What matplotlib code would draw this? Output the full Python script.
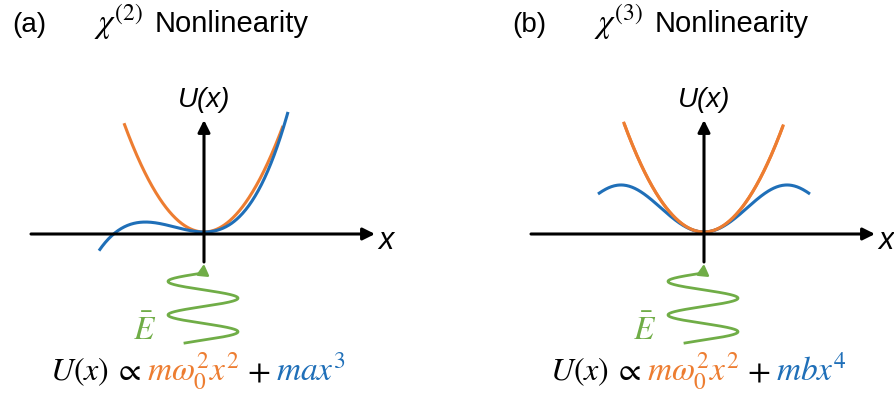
import numpy as np
import matplotlib.pyplot as plt

plt.rcParams['mathtext.fontset'] = 'stix'

#=================================DATA=========================================#

W, H = 894, 393
panels = ["(a)", "(b)"]
orders = ["2", "3"]
panel_shift = [0, 500]          # horizontal offset of each panel, px
axis_cross = (204, 234)         # where x and U axes cross in panel (a)

# U(x) in px above the axis, x in px from the U axis
harmonic_k = 0.017
harmonic_span = [(-80, 79), (-80, 79)]

# blue curves: polynomial coefficients in x^2, x^3, x^4, x^6
cubic_coef = {2: 0.0087, 3: 9.9e-5}
quartic_coef = {2: 0.01581, 4: -1.618e-6, 6: 4.557e-11}
blue_span = [(-105, 84), (-106, 106)]

# incoming field wiggle
wave_amp = 35
wave_bottom, wave_top = 343, 273
wave_phase = (-4 * np.pi - 0.54, 0.0)

ORANGE = "#ED7D31"
BLUE = "#1F6FB8"
GREEN = "#70AD47"

#==================================CORE========================================#

fig = plt.figure(figsize=(W / 100, H / 100), dpi=100)
ax = fig.add_axes([0, 0, 1, 1])
ax.set_xlim(0, W)
ax.set_ylim(H, 0)
ax.axis("off")


def poly(x, coef):
    return sum(c * x ** p for p, c in coef.items())


def arrow(x0, y0, x1, y1, color, lw, hl=0.4, hw=0.2):
    ax.annotate("", xy=(x1, y1), xytext=(x0, y0),
                arrowprops=dict(arrowstyle="-|>,head_length=%g,head_width=%g" % (hl, hw),
                                lw=lw, color=color, shrinkA=0, shrinkB=0,
                                mutation_scale=18))


blue_coefs = [cubic_coef, quartic_coef]
tails = [r"$max^3$", r"$mbx^4$"]

for i in range(2):
    dx = panel_shift[i]
    ox, oy = axis_cross[0] + dx, axis_cross[1]

    # title
    ax.text(12 + dx, 32, panels[i], fontsize=20, family="Liberation Sans", va="baseline")
    ax.text(94 + dx, 33, r"$\chi^{(%s)}$" % orders[i], fontsize=24, va="baseline")
    ax.text(155 + dx, 32, "Nonlinearity", fontsize=21, family="Liberation Sans",
            va="baseline")

    # axes
    arrow(31 + dx, oy, 375 + dx, oy, "black", 2.2)
    arrow(ox, 262, ox, 120, "black", 2.2)
    ax.text(386 + dx, 241, "x", fontsize=22, style="italic", family="Liberation Sans",
            ha="center", va="center")
    ax.text(ox, 100, "U(x)", fontsize=20, style="italic", family="Liberation Sans",
            ha="center", va="center")

    # potentials
    xs = np.linspace(*harmonic_span[i], 300)
    ax.plot(ox + xs, oy - 2 - harmonic_k * xs ** 2, color=ORANGE, lw=2.2,
            solid_capstyle="butt")
    xs = np.linspace(*blue_span[i], 300)
    ax.plot(ox + xs, oy - 2 - poly(xs, blue_coefs[i]), color=BLUE, lw=2.2,
            solid_capstyle="butt")
    if i == 1:
        # orange sits on top of the blue well in (b)
        xs = np.linspace(*harmonic_span[i], 300)
        ax.plot(ox + xs, oy - 2 - harmonic_k * xs ** 2, color=ORANGE, lw=2.2)

    # driving field
    ph = np.linspace(*wave_phase, 400)
    wy = wave_bottom + (ph - ph[0]) / (ph[-1] - ph[0]) * (wave_top - wave_bottom)
    ax.plot(ox - 1 + wave_amp * np.sin(ph), wy, color=GREEN, lw=2.0)
    arrow(ox - 1, wave_top + 1, ox, 264, GREEN, 1.8, hl=0.35, hw=0.2)
    ax.text(145 + dx, 330, r"$\bar{E}$", color=GREEN, fontsize=24,
            ha="center", va="center")

    # formula, one piece per colour
    pieces = [(r"$U(x)$", "black", 50, 23),
              (r"$\propto$", "black", 114, 23),
              (r"$m\omega_0^2x^2$", ORANGE, 147, 24),
              (r"$+$", "black", 247, 24),
              (tails[i], BLUE, 276, 24)]
    for txt, col, x0, fs in pieces:
        ax.text(x0 + dx, 380, txt, color=col, fontsize=fs, va="baseline", ha="left")

fig.savefig("out.png", dpi=100)
